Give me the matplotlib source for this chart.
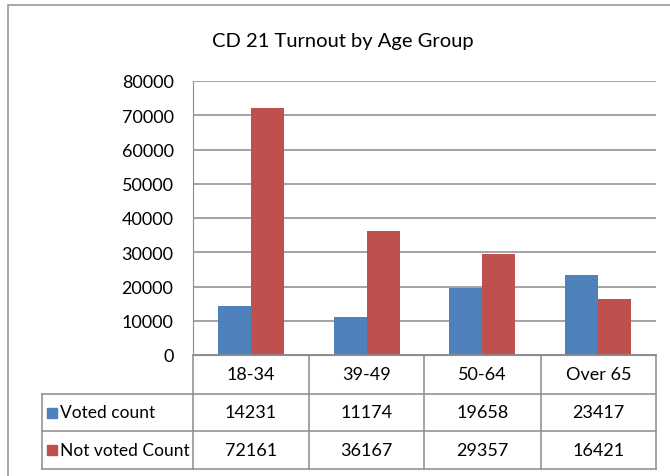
import numpy as np
import matplotlib.pyplot as plt
from matplotlib.lines import Line2D
from matplotlib.patches import Rectangle

plt.rcParams['font.family'] = ['Lato', 'DejaVu Sans']

# dane
kategorie = ['18-34', '39-49', '50-64', 'Over 65']
glosowali = [14231, 11174, 19658, 23417]
nie_glosowali = [72161, 36167, 29357, 16421]
serie = ['Voted count', 'Not voted Count']
kolory = ['#4F81BD', '#C0504D']

W, H = 670, 477
fig = plt.figure(figsize=(W / 100, H / 100), dpi=100)

def fx(px):
    return px / W

def fy(py):
    return 1 - py / H

# ramka wykresu (wychodzi poza prawy i dolny brzeg)
fig.add_artist(Rectangle((fx(8), fy(490)), fx(700), fy(6) - fy(490),
                         transform=fig.transFigure, fill=False, edgecolor='#9a9a9a', lw=1.2))

left, right, top, bottom = 193, 656, 82, 356
ax = fig.add_axes([fx(left), fy(bottom), fx(right - left), fy(top) - fy(bottom)])

x = np.arange(len(kategorie))
w = 0.285
ax.bar(x - w / 2, glosowali, w, color=kolory[0], zorder=3)
ax.bar(x + w / 2, nie_glosowali, w, color=kolory[1], zorder=3)

ax.set_xlim(-0.5, len(kategorie) - 0.5)
ax.set_ylim(0, 80000)
ax.set_yticks(np.arange(0, 80001, 10000))
ax.tick_params(axis='y', length=0, labelsize=13, pad=14)
ax.tick_params(axis='x', length=0, labelbottom=False)
ax.grid(axis='y', color='#8c8c8c', lw=1.1, zorder=0)
for s in ['top', 'right']:
    ax.spines[s].set_visible(False)
ax.spines['left'].set_color('#8c8c8c')
ax.spines['bottom'].set_color('#8c8c8c')

fig.text(fx(343), fy(42), 'CD 21 Turnout by Age Group', ha='center', va='center', fontsize=14.5)

# tabela danych
kol = [193, 309, 424, 541, 656]
wiersze = [356, 395, 432, 470]
lab_left = 42
lc = '#8c8c8c'

def linia(x0, y0, x1, y1):
    fig.add_artist(Line2D([fx(x0), fx(x1)], [fy(y0), fy(y1)], transform=fig.transFigure, color=lc, lw=1.1))

for c in kol:
    linia(c, wiersze[0], c, wiersze[-1])
linia(lab_left, wiersze[1], lab_left, wiersze[-1])
for i, r in enumerate(wiersze):
    linia(lab_left if i > 0 else kol[0], r, kol[-1], r)

for j, k in enumerate(kategorie):
    fig.text(fx((kol[j] + kol[j + 1]) / 2), fy((wiersze[0] + wiersze[1]) / 2), k,
             ha='center', va='center', fontsize=13)

for i, (nazwa, wart) in enumerate(zip(serie, [glosowali, nie_glosowali])):
    yc = (wiersze[i + 1] + wiersze[i + 2]) / 2
    fig.add_artist(Rectangle((fx(47), fy(yc + 5)), fx(10), fy(yc - 5) - fy(yc + 5),
                             transform=fig.transFigure, color=kolory[i]))
    fig.text(fx(60), fy(yc), nazwa, ha='left', va='center', fontsize=12.5)
    for j, v in enumerate(wart):
        fig.text(fx((kol[j] + kol[j + 1]) / 2), fy(yc), str(v), ha='center', va='center', fontsize=13)

fig.savefig('out.png', dpi=100)
